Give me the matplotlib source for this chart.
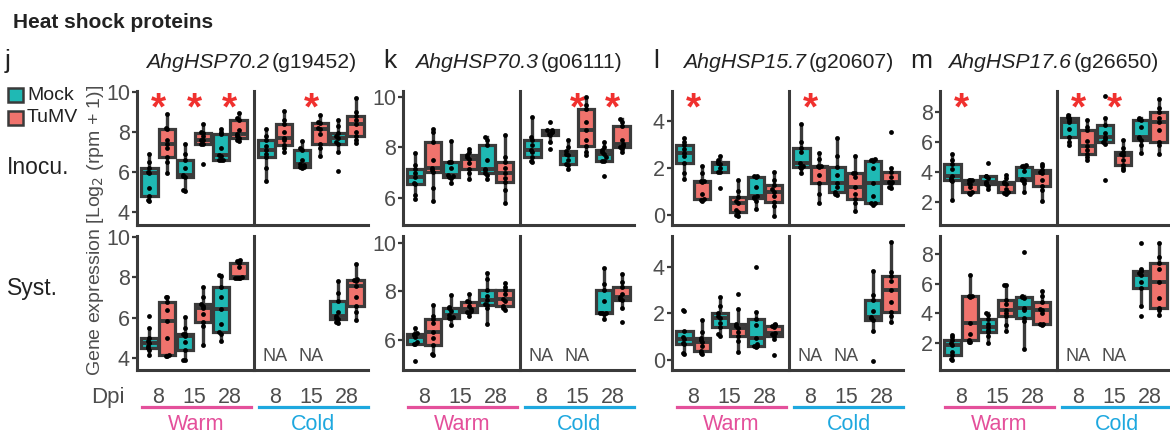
import matplotlib
matplotlib.use("Agg")
import matplotlib.pyplot as plt
from matplotlib.lines import Line2D
from matplotlib.patches import Rectangle
import numpy as np

plt.rcParams['font.family'] = ['Liberation Sans', 'DejaVu Sans']

# ---- data: per gene and row, groups ordered warm 8/15/28, cold 8/15/28 ----
genes = ['AhgHSP70.2', 'AhgHSP70.3', 'AhgHSP15.7', 'AhgHSP17.6']
gene_ids = ['g19452', 'g06111', 'g20607', 'g26650']
letters = ['j', 'k', 'l', 'm']
dpi_labels = ['8', '15', '28']

j_inocu_mock = [
    [4.55, 4.6, 4.83, 5.2, 5.95, 6.0, 6.23, 6.5, 6.9],
    [5.07, 5.1, 5.74, 5.8, 5.87, 6.2, 6.6, 6.9, 7.39],
    [6.6, 6.6, 6.6, 6.8, 6.85, 7.2, 7.88, 8.0, 8.17],
    [5.57, 6.2, 6.73, 6.9, 7.1, 7.3, 7.59, 7.8, 8.13],
    [6.2, 6.26, 6.26, 6.35, 6.43, 6.6, 7.09, 7.2, 7.55],
    [6.07, 6.98, 7.39, 7.5, 7.7, 7.8, 7.97, 8.3, 8.58],
]
j_inocu_tumv = [
    [5.98, 6.5, 6.73, 7.2, 7.39, 7.6, 8.13, 8.2, 8.9],
    [6.4, 7.39, 7.39, 7.6, 7.6, 7.8, 7.97, 8.0, 8.41],
    [7.55, 7.6, 7.72, 7.8, 7.88, 8.1, 8.58, 8.7, 8.96],
    [6.98, 7.2, 7.36, 7.6, 7.72, 8.0, 8.41, 8.6, 9.07],
    [6.81, 7.2, 7.42, 7.9, 8.13, 8.2, 8.46, 8.5, 8.83],
    [7.47, 7.6, 7.8, 8.0, 8.41, 8.6, 8.79, 9.0, 9.7],
]
j_syst_mock = [
    [4.13, 4.4, 4.49, 4.6, 4.74, 4.85, 5.0, 5.5, 6.09],
    [3.88, 3.9, 4.41, 4.8, 5.07, 5.2, 5.2, 5.5, 6.05],
    [4.82, 5.2, 5.31, 5.7, 6.41, 7.0, 7.5, 8.05, 8.1],
    None, None,
    [5.72, 5.8, 5.92, 6.0, 6.09, 6.3, 6.84, 7.2, 7.83],
]
j_syst_tumv = [
    [4.08, 4.1, 4.16, 5.0, 5.81, 6.4, 6.76, 7.0, 7.04],
    [4.65, 5.6, 5.76, 6.2, 6.46, 6.6, 6.68, 7.0, 7.53],
    [7.98, 7.98, 7.98, 7.98, 8.0, 8.5, 8.73, 8.8, 8.85],
    None, None,
    [5.89, 6.3, 6.58, 7.0, 7.57, 7.8, 7.86, 7.9, 8.68],
]

k_inocu_mock = [
    [5.95, 6.1, 6.54, 6.6, 6.81, 7.0, 7.14, 7.3, 7.77],
    [6.6, 6.8, 6.83, 6.85, 6.9, 7.2, 7.41, 7.41, 8.25],
    [6.74, 6.9, 7.0, 7.1, 7.14, 7.5, 8.08, 8.3, 8.42],
    [7.41, 7.45, 7.61, 7.8, 7.9, 8.1, 8.31, 8.4, 9.19],
    [7.14, 7.3, 7.34, 7.5, 7.68, 7.75, 7.84, 8.0, 8.31],
    [6.85, 7.48, 7.48, 7.6, 7.75, 7.8, 7.88, 8.0, 8.21],
]
k_inocu_tumv = [
    [5.87, 6.4, 7.03, 7.1, 7.17, 7.5, 8.21, 8.6, 8.75],
    [6.74, 7.0, 7.14, 7.4, 7.54, 7.6, 7.68, 7.8, 7.95],
    [5.8, 6.3, 6.63, 6.8, 7.0, 7.2, 7.41, 7.6, 8.48],
    [7.95, 8.2, 8.48, 8.55, 8.6, 8.62, 8.68, 8.7, 9.02],
    [7.68, 7.8, 8.04, 8.3, 8.68, 9.0, 9.52, 9.7, 10.0],
    [7.81, 7.95, 8.01, 8.05, 8.12, 8.3, 8.85, 9.0, 9.11],
]
k_syst_mock = [
    [5.13, 5.83, 5.83, 5.9, 6.11, 6.2, 6.25, 6.3, 6.48],
    [6.62, 6.9, 6.9, 6.95, 7.05, 7.2, 7.31, 7.35, 7.86],
    [6.65, 7.3, 7.45, 7.5, 7.65, 7.8, 8.07, 8.5, 8.76],
    None, None,
    [6.87, 7.08, 7.1, 7.1, 7.1, 7.6, 8.07, 8.3, 8.97],
]
k_syst_tumv = [
    [5.38, 5.4, 5.79, 6.1, 6.34, 6.7, 6.86, 7.0, 7.45],
    [6.97, 7.1, 7.17, 7.2, 7.27, 7.4, 7.56, 7.6, 7.9],
    [7.24, 7.3, 7.41, 7.6, 7.7, 7.9, 8.07, 8.2, 8.34],
    None, None,
    [6.76, 7.31, 7.63, 7.7, 7.77, 7.9, 8.17, 8.4, 8.73],
]

l_inocu_mock = [
    [1.52, 1.8, 2.23, 2.5, 2.62, 2.8, 2.98, 3.1, 3.26],
    [1.13, 1.84, 1.84, 2.0, 2.15, 2.2, 2.27, 2.35, 2.51],
    [0.24, 0.6, 0.71, 0.75, 0.81, 1.2, 1.63, 1.67, 1.67],
    [1.77, 2.0, 2.06, 2.1, 2.2, 2.7, 2.84, 3.12, 3.87],
    [0.85, 0.9, 0.99, 1.2, 1.35, 1.7, 2.06, 2.5, 3.29],
    [0.43, 0.5, 0.5, 0.8, 1.35, 2.0, 2.31, 2.35, 2.38],
]
l_inocu_tumv = [
    [0.61, 0.65, 0.67, 0.9, 1.42, 1.44, 1.46, 1.8, 2.09],
    [-0.04, 0.0, 0.14, 0.2, 0.5, 0.6, 0.75, 1.0, 1.49],
    [-0.04, 0.4, 0.57, 0.8, 0.99, 1.1, 1.28, 1.5, 1.84],
    [0.52, 0.9, 1.35, 1.7, 2.06, 2.07, 2.09, 2.4, 2.65],
    [0.18, 0.5, 0.67, 0.9, 1.21, 1.6, 1.77, 1.8, 2.51],
    [1.13, 1.2, 1.35, 1.4, 1.42, 1.6, 1.84, 1.99, 3.52],
]
l_syst_mock = [
    [0.26, 0.3, 0.69, 0.75, 0.89, 1.0, 1.25, 2.1, 2.14],
    [1.03, 1.1, 1.4, 1.6, 1.79, 1.9, 2.0, 2.3, 2.69],
    [0.57, 0.6, 0.6, 0.7, 0.93, 1.5, 1.76, 2.07, 4.0],
    None, None,
    [-0.03, 1.24, 1.74, 1.8, 1.86, 2.1, 2.6, 2.8, 3.83],
]
l_syst_tumv = [
    [0.26, 0.3, 0.4, 0.6, 0.79, 0.85, 0.93, 1.2, 1.71],
    [0.36, 0.8, 1.03, 1.2, 1.36, 1.45, 1.54, 2.2, 2.83],
    [0.21, 0.89, 1.03, 1.1, 1.14, 1.4, 1.46, 1.5, 1.54],
    None, None,
    [1.64, 1.9, 2.07, 2.5, 3.0, 3.4, 3.6, 3.8, 5.07],
]

m_inocu_mock = [
    [2.16, 3.4, 3.49, 3.6, 3.75, 4.2, 4.51, 4.8, 5.22],
    [2.89, 3.1, 3.18, 3.25, 3.33, 3.6, 3.71, 3.73, 4.62],
    [2.67, 3.3, 3.44, 3.5, 3.56, 4.1, 4.33, 4.4, 4.44],
    [5.78, 6.0, 6.33, 6.9, 7.35, 7.5, 7.62, 7.7, 7.78],
    [3.49, 5.9, 6.0, 6.2, 6.33, 6.6, 7.11, 7.6, 9.04],
    [5.27, 5.8, 6.16, 6.25, 6.33, 7.0, 7.49, 7.55, 7.62],
]
m_inocu_tumv = [
    [2.56, 2.6, 2.67, 3.0, 3.22, 3.3, 3.44, 3.47, 3.49],
    [2.56, 2.6, 2.67, 2.9, 3.18, 3.25, 3.33, 3.6, 3.82],
    [2.07, 2.8, 3.04, 3.5, 3.93, 4.0, 4.16, 4.4, 4.56],
    [4.82, 5.0, 5.22, 5.5, 5.71, 6.1, 6.78, 7.0, 7.49],
    [4.11, 4.3, 4.44, 4.8, 5.11, 5.2, 5.33, 5.6, 6.11],
    [5.22, 5.8, 6.0, 6.8, 7.33, 7.6, 8.0, 8.3, 8.89],
]
m_syst_mock = [
    [0.83, 0.9, 1.21, 1.4, 1.89, 2.0, 2.18, 2.4, 2.56],
    [2.0, 2.5, 2.72, 2.9, 3.08, 3.3, 3.62, 3.9, 4.02],
    [1.6, 3.5, 3.69, 4.2, 4.36, 5.0, 5.1, 5.15, 8.13],
    None, None,
    [3.8, 4.52, 5.71, 6.1, 6.61, 6.7, 6.88, 7.0, 8.74],
]
m_syst_tumv = [
    [2.04, 2.1, 2.18, 2.6, 3.35, 5.1, 5.15, 5.2, 6.61],
    [2.83, 3.2, 3.8, 4.0, 4.25, 4.6, 4.92, 5.9, 5.93],
    [3.24, 3.28, 3.28, 4.0, 4.25, 4.3, 4.76, 5.2, 5.48],
    None, None,
    [3.91, 4.2, 4.36, 5.0, 6.09, 7.0, 7.39, 7.8, 8.74],
]

# significance (Mock vs TuMV) in the inoculated row
j_sig = [1, 1, 1, 0, 1, 0]
k_sig = [0, 0, 0, 0, 1, 1]
l_sig = [1, 0, 0, 1, 0, 0]
m_sig = [1, 0, 0, 1, 1, 0]

inocu_mock = [j_inocu_mock, k_inocu_mock, l_inocu_mock, m_inocu_mock]
inocu_tumv = [j_inocu_tumv, k_inocu_tumv, l_inocu_tumv, m_inocu_tumv]
syst_mock = [j_syst_mock, k_syst_mock, l_syst_mock, m_syst_mock]
syst_tumv = [j_syst_tumv, k_syst_tumv, l_syst_tumv, m_syst_tumv]
sigs = [j_sig, k_sig, l_sig, m_sig]

# ---- layout (pixels) ----
W, H = 1170, 437
panel_left = [137, 403, 672, 940]
facet_w, facet_gap = 114, 3
rows = [(91, 225), (236, 370)]
ylims = [[(3.36, 10.05), (4.92, 10.24), (-0.43, 5.28), (0.47, 9.4)],
         [(3.40, 10.05), (4.76, 10.29), (-0.43, 5.33), (0.18, 9.21)]]
yticks = [[4, 6, 8, 10], [6, 8, 10], [0, 2, 4], [2, 4, 6, 8]]

MOCK = '#1fb9b4'
TUMV = '#f0736d'
EDGE = '#3a3a3a'
TXT = '#4d4d4d'
WARM = '#e4509b'
COLD = '#1ea8df'

fig = plt.figure(figsize=(W / 100, H / 100), dpi=100)


def fx(x):
    return x / W


def fy(y):
    return 1 - y / H


def spread(vals):
    # small deterministic side-by-side offsets for dots with close values
    offs = []
    for i, v in enumerate(vals):
        k = sum(1 for u in vals[:i] if abs(u - v) < 0.12)
        offs.append(((-1) ** k) * ((k + 1) // 2) * 0.05)
    return np.array(offs)


def draw_facet(ax, mock, tumv, ylim):
    for data, shift, col in ((mock, -0.25, MOCK), (tumv, 0.25, TUMV)):
        for i, grp in enumerate(data):
            if grp is None:
                continue
            pos = i + 1 + shift
            ax.boxplot([grp], positions=[pos], widths=0.46, patch_artist=True,
                       showfliers=False, showcaps=False,
                       boxprops=dict(facecolor=col, edgecolor=EDGE, linewidth=2.3),
                       medianprops=dict(color=EDGE, linewidth=2.8),
                       whiskerprops=dict(color=EDGE, linewidth=2.4))
            vals = np.array(grp)
            ax.scatter(pos + spread(list(vals)), vals, s=12, color='black',
                       zorder=4, linewidths=0)
    ax.set_xlim(0.4, 3.6)
    ax.set_ylim(*ylim)
    for s in ('top', 'right'):
        ax.spines[s].set_visible(False)
    for s in ('left', 'bottom'):
        ax.spines[s].set_linewidth(2.2)
        ax.spines[s].set_color(EDGE)
    ax.patch.set_alpha(0)


for g in range(4):
    for r, (top, bot) in enumerate(rows):
        mock = [inocu_mock, syst_mock][r][g]
        tumv = [inocu_tumv, syst_tumv][r][g]
        for t in range(2):
            x0 = panel_left[g] + t * (facet_w + facet_gap)
            ax = fig.add_axes([fx(x0), fy(bot), facet_w / W, (bot - top) / H])
            draw_facet(ax, mock[3 * t:3 * t + 3], tumv[3 * t:3 * t + 3], ylims[r][g])
            if t == 0:
                ax.set_yticks(yticks[g])
                ax.tick_params(axis='y', length=3.6, width=1.6, color=EDGE,
                               labelsize=15.5, labelcolor=TXT, pad=1.5)
            else:
                ax.set_yticks([])
            if r == 1:
                ax.set_xticks([1, 2, 3])
                ax.set_xticklabels(dpi_labels)
                ax.tick_params(axis='x', length=0, labelsize=15.5, labelcolor=TXT, pad=12)
            else:
                ax.set_xticks([])
            if r == 0:
                for i, s in enumerate(sigs[g][3 * t:3 * t + 3]):
                    if s:
                        ax.text(i + 1, 0.86, '*', transform=ax.get_xaxis_transform(),
                                ha='center', va='center', color='#f0302e',
                                fontsize=28, fontweight='bold')
            if r == 1 and t == 1:
                for i in range(2):
                    if mock[3 + i] is None:
                        ax.text(i + 1, 0.1, 'NA', transform=ax.get_xaxis_transform(),
                                ha='center', va='center', color=TXT, fontsize=13)
        # warm / cold bars
        if r == 1:
            for t, (lab, col) in enumerate((('Warm', WARM), ('Cold', COLD))):
                x0 = panel_left[g] + t * (facet_w + facet_gap)
                fig.add_artist(Line2D([fx(x0 + 5), fx(x0 + facet_w)], [fy(407), fy(407)],
                                      color=col, linewidth=2.3, transform=fig.transFigure))
                fig.text(fx(x0 + 5 + (facet_w - 5) / 2), fy(425), lab, color=col,
                         fontsize=15.5, ha='center', va='center')

# panel letters and gene titles
title_split = [269, 538, 806, 1071]
letter_x = [5, 383, 653, 910]
for g in range(4):
    fig.text(fx(letter_x[g]), fy(61), letters[g], fontsize=19, color='#222222',
             ha='left', va='center')
    fig.text(fx(title_split[g]), fy(62), genes[g], fontsize=15.3, style='italic',
             color='#222222', ha='right', va='center')
    fig.text(fx(title_split[g] + 3), fy(62), '(' + gene_ids[g] + ')', fontsize=15.3,
             color='#222222', ha='left', va='center')

fig.text(fx(13), fy(22), 'Heat shock proteins', fontsize=15, fontweight='bold',
         color='#222222', ha='left', va='center')

# legend
for lab, col, yc in (('Mock', MOCK, 95), ('TuMV', TUMV, 118)):
    fig.add_artist(Rectangle((fx(8), fy(yc + 7)), 15 / W, 14 / H, facecolor=col,
                             edgecolor=EDGE, linewidth=1.8, transform=fig.transFigure))
    fig.text(fx(27), fy(yc), lab, fontsize=14, color='#222222', ha='left', va='center')

fig.text(fx(7), fy(168), 'Inocu.', fontsize=16.5, color='#222222', ha='left', va='center')
fig.text(fx(7), fy(288), 'Syst.', fontsize=16.5, color='#222222', ha='left', va='center')
fig.text(fx(96), fy(230), 'Gene expression [Log$_2$ (rpm + 1)]', rotation=90,
         fontsize=14, color=TXT, ha='center', va='center')
fig.text(fx(108), fy(397), 'Dpi', fontsize=16, color=TXT, ha='center', va='center')

fig.savefig('out.png', dpi=100)
